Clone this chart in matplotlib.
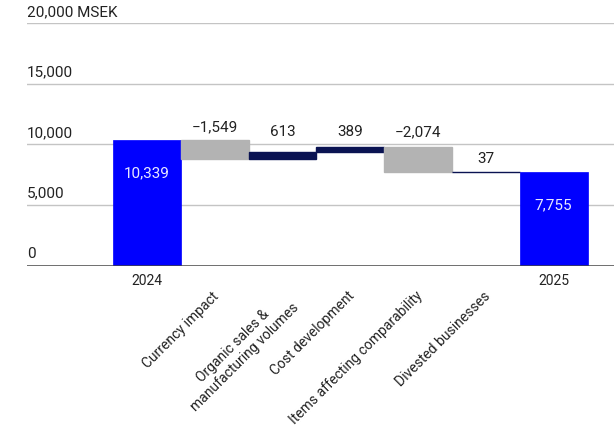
import matplotlib
matplotlib.use("Agg")
import matplotlib.pyplot as plt
import matplotlib.transforms as mtrans

plt.rcParams['font.family'] = ['Roboto', 'DejaVu Sans']

categories = ["2024", "Currency impact", "Organic sales &\nmanufacturing volumes",
              "Cost development", "Items affecting comparability",
              "Divested businesses", "2025"]
values = [10339, -1549, 613, 389, -2074, 37, 7755]
value_labels = ["10,339", "\u22121,549", "613", "389", "\u22122,074", "37", "7,755"]
is_total = [True, False, False, False, False, False, True]
yticks = [0, 5000, 10000, 15000, 20000]
ytick_labels = ["0", "5,000", "10,000", "15,000", "20,000 MSEK"]

BLUE = "#0000ff"
NAVY = "#0a1352"
GREY = "#b3b3b3"
TEXT = "#222222"

fig = plt.figure(figsize=(6.14, 4.25), dpi=100)
ax = fig.add_axes([27/614, 1 - 265.5/425, 1 - 27/614, (265.5 - 23.3)/425])
ax.set_xlim(-1.77, 6.89)
ax.set_ylim(0, 20000)
ax.axis('off')

# gridlines
for v in yticks[1:]:
    ax.axhline(v, color="#c4c4c4", lw=1.0, zorder=0)
ax.axhline(0, color="#444444", lw=1.8, zorder=3)

trans_lbl = mtrans.blended_transform_factory(ax.transAxes, ax.transData)
for v, lab in zip(yticks, ytick_labels):
    ax.annotate(lab, xy=(0, v), xycoords=trans_lbl, xytext=(0, 3),
                textcoords='offset points', ha='left', va='bottom',
                fontsize=11, color=TEXT)

running = 0
for i, (v, tot) in enumerate(zip(values, is_total)):
    if tot:
        ax.bar(i, v, width=1.0, bottom=0, color=BLUE, edgecolor=BLUE, lw=0.5, zorder=2)
        ax.annotate(value_labels[i], xy=(i, v), xytext=(0, -24),
                    textcoords='offset points', ha='center', va='center',
                    fontsize=11, color="#e8e8ff", zorder=4)
        running = v
    else:
        start = running
        end = running + v
        lo, hi = min(start, end), max(start, end)
        col = NAVY if v > 0 else GREY
        ax.bar(i, hi - lo, width=1.0, bottom=lo, color=col, edgecolor=col,
               lw=1.0, zorder=2)
        running = end
        top = hi
        ly = 10000 if 9000 < top < 10000 else top
        ax.annotate(value_labels[i], xy=(i, ly), xytext=(0, 9),
                    textcoords='offset points', ha='center', va='center',
                    fontsize=11, color=TEXT)

# category labels
for i, (c, tot) in enumerate(zip(categories, is_total)):
    if tot:
        ax.annotate(c, xy=(i, 0), xytext=(0, -11), textcoords='offset points',
                    ha='center', va='center', fontsize=10, color=TEXT)
    else:
        ax.annotate(c, xy=(i, 0), xytext=(-2, -17), textcoords='offset points',
                    ha='right', va='top', rotation=45, rotation_mode='anchor',
                    multialignment='center', fontsize=10, color=TEXT)

fig.savefig("out.png", dpi=100)
